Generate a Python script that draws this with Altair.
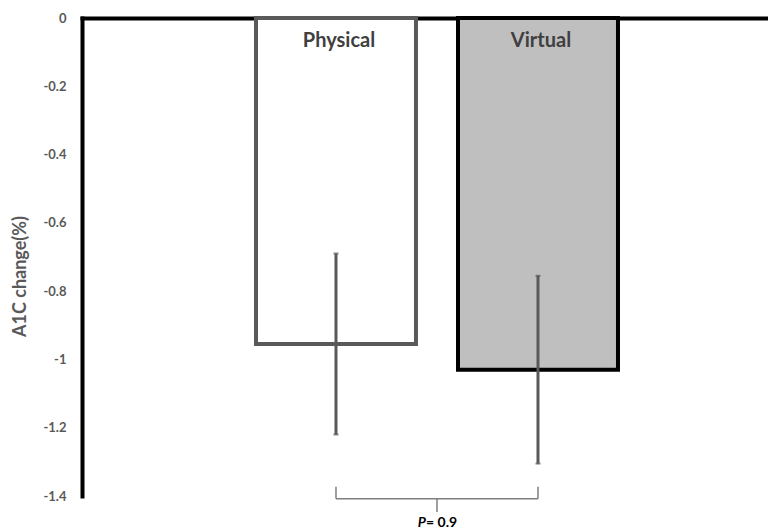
import altair as alt
import pandas as pd

groups = ["Physical", "Virtual"]
means = [-0.955, -1.03]
err_top = [-0.69, -0.755]
err_bottom = [-1.22, -1.305]
fill_colors = ["#ffffff", "#bfbfbf"]
stroke_colors = ["#595959", "#000000"]
y_ticks = [0, -0.2, -0.4, -0.6, -0.8, -1.0, -1.2, -1.4]
label_y = -0.066

# bracket annotation (y values in data units)
bracket_end_top = -1.373
bracket_line = -1.408
bracket_tip = -1.447
p_text_y = -1.478
p_value = "0.9"

df = pd.DataFrame({"group": groups, "mean": means, "hi": err_top, "lo": err_bottom,
                   "ly": [label_y] * len(groups)})

xscale = alt.Scale(domain=groups, paddingInner=0.208, paddingOuter=0.802, align=0.537)
yscale = alt.Scale(domain=[-1.4, 0], nice=False, zero=False)

X = alt.X("group:N", scale=xscale, sort=groups,
          axis=alt.Axis(orient="top", labels=False, ticks=False, title=None,
                        domainColor="#000000", domainWidth=4, domainCap="square"))
Y_axis = alt.Axis(values=y_ticks, ticks=False, grid=False, domainColor="#000000",
                  domainWidth=4, domainCap="square",
                  labelExpr="datum.value == 0 ? '0' : (abs(datum.value + 1) < 1e-9 ? '-1' : '-' + format(-datum.value, '.1f'))",
                  labelFont="Lato", labelFontWeight="bold", labelFontSize=13,
                  labelColor="#595959", labelPadding=16,
                  title="A1C change(%)", titleFont="Lato", titleFontWeight="bold",
                  titleFontSize=18, titleColor="#595959", titleX=-62, titleY=258,
                  titleBaseline="middle", titleAlign="center")

base = alt.Chart(df)
XG = alt.X("group:N", scale=xscale, sort=groups)

bars = base.mark_bar(strokeWidth=4, strokeJoin="miter").encode(
    x=X,
    y=alt.Y("mean:Q", scale=yscale, axis=Y_axis),
    y2=alt.datum(0),
    fill=alt.Fill("group:N", scale=alt.Scale(domain=groups, range=fill_colors), legend=None),
    stroke=alt.Stroke("group:N", scale=alt.Scale(domain=groups, range=stroke_colors), legend=None),
)

errs = base.mark_rule(color="#595959", strokeWidth=3).encode(
    x=XG, y=alt.Y("hi:Q", scale=yscale), y2="lo:Q",
)
caps_hi = base.mark_tick(color="#595959", size=5, thickness=2).encode(
    x=XG, y=alt.Y("hi:Q", scale=yscale))
caps_lo = base.mark_tick(color="#595959", size=5, thickness=2).encode(
    x=XG, y=alt.Y("lo:Q", scale=yscale))

labels = base.mark_text(font="Lato", fontWeight="bold", fontSize=20, color="#404040",
                        baseline="middle", dx=3).encode(
    x=XG, y=alt.Y("ly:Q", scale=yscale), text="group:N",
)

# bracket
bdf = pd.DataFrame({"group": groups})
bb = alt.Chart(bdf)
ends = bb.mark_rule(color="#7f7f7f", strokeWidth=1.5).encode(
    x=XG, y=alt.datum(bracket_end_top), y2=alt.datum(bracket_line),
)
hline = alt.Chart(pd.DataFrame({"a": [groups[0]], "b": [groups[1]]})).mark_rule(
    color="#7f7f7f", strokeWidth=1.5).encode(
    x=alt.X("a:N", scale=xscale, sort=groups), x2="b:N", y=alt.datum(bracket_line),
)
one = pd.DataFrame({"a": [groups[0]]})
tip = alt.Chart(one).mark_rule(color="#7f7f7f", strokeWidth=1.5, xOffset=101).encode(
    x=alt.X("a:N", scale=xscale, sort=groups),
    y=alt.datum(bracket_line), y2=alt.datum(bracket_tip),
)
ptext = alt.Chart(one).mark_text(
    font="Lato", fontWeight="bold", fontStyle="italic", fontSize=14, color="#000000",
    align="right", baseline="middle", dx=90).encode(
    x=alt.X("a:N", scale=xscale, sort=groups), y=alt.datum(p_text_y), text=alt.value("P"),
)
vtext = alt.Chart(one).mark_text(
    font="Lato", fontWeight="bold", fontSize=14, color="#000000",
    align="left", baseline="middle", dx=90).encode(
    x=alt.X("a:N", scale=xscale, sort=groups), y=alt.datum(p_text_y),
    text=alt.value("= " + p_value),
)

chart = alt.layer(bars, errs, caps_hi, caps_lo, labels, ends, hline, tip, ptext, vtext).properties(
    width=686, height=478,
    autosize=alt.AutoSizeParams(type="none"),
    padding={"left": 74, "top": 10, "right": 0, "bottom": 36},
).configure_view(stroke=None)

chart.save("out.html", embed_options={"renderer": "svg", "actions": False})
